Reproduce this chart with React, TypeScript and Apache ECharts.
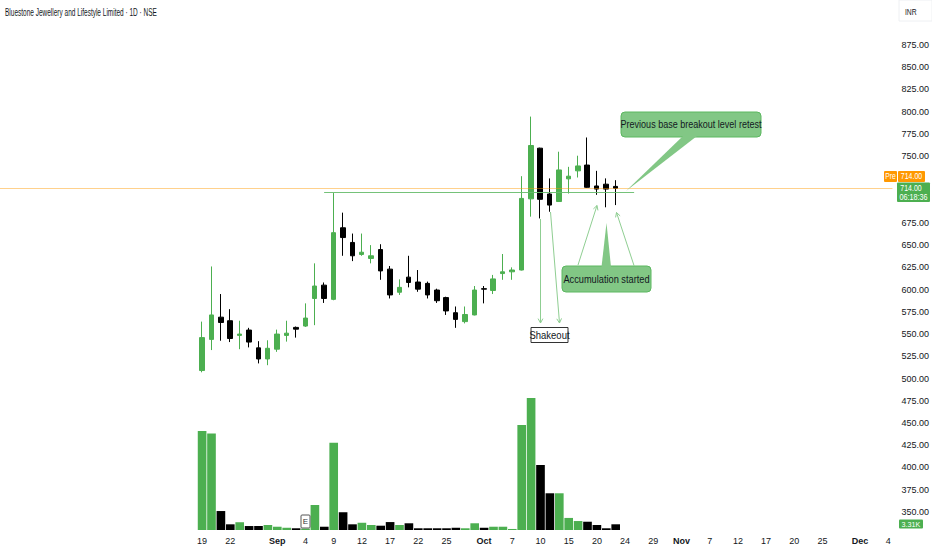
import React, { useEffect, useRef } from "react";
import * as echarts from "echarts";

// ---- data ----
const padCount = 21; // empty slots on the left of the first bar
const tradeDates = [
  "2025-08-19","2025-08-20","2025-08-21","2025-08-22","2025-08-25","2025-08-26","2025-08-28","2025-08-29",
  "2025-09-01","2025-09-02","2025-09-03","2025-09-04","2025-09-05","2025-09-08","2025-09-09","2025-09-10",
  "2025-09-11","2025-09-12","2025-09-15","2025-09-16","2025-09-17","2025-09-18","2025-09-19","2025-09-22",
  "2025-09-23","2025-09-24","2025-09-25","2025-09-26","2025-09-29","2025-09-30",
  "2025-10-01","2025-10-03","2025-10-06","2025-10-07","2025-10-08","2025-10-09","2025-10-10","2025-10-13",
  "2025-10-14","2025-10-15","2025-10-16","2025-10-17","2025-10-20","2025-10-21","2025-10-23","2025-10-24",
  "2025-10-27","2025-10-28","2025-10-29","2025-10-30","2025-10-31",
  "2025-11-03","2025-11-04","2025-11-06","2025-11-07","2025-11-10","2025-11-11","2025-11-12","2025-11-13",
  "2025-11-14","2025-11-17","2025-11-18","2025-11-19","2025-11-20","2025-11-21","2025-11-24","2025-11-25",
  "2025-11-26","2025-11-27","2025-11-28",
  "2025-12-01","2025-12-02","2025-12-03","2025-12-04",
];
const tickLabels: Record<string, string> = {
  "2025-08-19": "19", "2025-08-22": "22", "2025-09-01": "Sep", "2025-09-04": "4", "2025-09-09": "9",
  "2025-09-12": "12", "2025-09-17": "17", "2025-09-22": "22", "2025-09-25": "25", "2025-10-01": "Oct",
  "2025-10-07": "7", "2025-10-10": "10", "2025-10-15": "15", "2025-10-20": "20", "2025-10-24": "24",
  "2025-10-29": "29", "2025-11-03": "Nov", "2025-11-07": "7", "2025-11-12": "12", "2025-11-17": "17",
  "2025-11-20": "20", "2025-11-25": "25", "2025-12-01": "Dec", "2025-12-04": "4",
};
const monthLabels = ["Sep", "Oct", "Nov", "Dec"];

const opens = [509,544,569,565,548.5,554.5,534.5,522,533,548.5,557.5,559,590,605,589,669.5,653,639.5,635,645,623,597,614,608.5,607,599.5,591,574,564,571.5,601,599,618,620,622,702,759,707.5,699,724.5,733.5,740,716.5,718.5,716];
const closes = [546,571.5,563,545,550,541,522,534,550,551,555.5,568,604,590,664,658.5,638,642,638,621,594,602.5,608,600.5,594,587.5,576,566.5,572,599.5,600.5,612,620,622,702.5,762,701.5,695,734.5,727.5,739,715,713,713,714];
const lows = [507,532,542.5,541,533,535,517,515,530,541.5,546,558,560,585,588,638,632,638,629.5,611,590,594,602.5,597.5,590,585,571.5,557,562,571,584.5,595,611,611,621.5,682,680,687.5,698.5,708,726,714.5,706.5,692.5,695];
const highs = [564,626,595,578,565,557,542,543,555,565,558.5,584.5,629.5,608,708.5,686.5,663,663,650,651,626.5,611.5,638,622,609,601,592,581,581,604,604,616.5,640,625,727.5,794.5,759.5,725,755,738,750.5,771,733.5,725,723];
const volumesK = [57.4,55.9,11,3.3,4.5,2.3,2.3,2.9,1.9,1.3,1.0,0.8,14.5,1.9,50.6,10.3,3.3,4.2,2.9,2.5,4.6,2.9,3.9,1.0,1.0,1.0,1.0,1.3,1.0,3.9,1.3,1.9,1.9,0.6,60.9,76.6,37.7,21.3,21.3,7.0,5.2,4.8,2.9,1.0,3.31];

const lastPrice = 714;
const baseLevel = 709;
const baseStart = tradeDates[13];
const baseEnd = tradeDates[46];
const priceTicksHidden = [325, 700, 725, 900, 925];

// ---- styles ----
const UP = "#4caf50";
const DOWN = "#000000";
const TEXT = "#131722";
const FONT = "'Liberation Sans', Arial, sans-serif";
const CALLOUT = "#82c785";
const CALLOUT_BORDER = "#5cb860";
const ARROW = "#8fce92";

function arrow(x1: number, y1: number, x2: number, y2: number, color: string) {
  const ang = Math.atan2(y2 - y1, x2 - x1);
  const L = 5;
  const a = 0.5;
  const p1 = [x2 - L * Math.cos(ang - a), y2 - L * Math.sin(ang - a)];
  const p2 = [x2 - L * Math.cos(ang + a), y2 - L * Math.sin(ang + a)];
  return [
    { type: "line", z: 50, shape: { x1, y1, x2, y2 }, style: { stroke: color, lineWidth: 1 } },
    { type: "polyline", z: 50, shape: { points: [p1, [x2, y2], p2] }, style: { stroke: color, fill: null, lineWidth: 1 } },
  ];
}

function txt(text: string, x: number, y: number, size: number, color: string, align = "center", sx = 1, weight = "normal") {
  return {
    type: "text",
    z: 60,
    x,
    y,
    scaleX: sx,
    style: {
      text,
      x: 0,
      y: 0,
      fill: color,
      fontSize: size,
      fontFamily: FONT,
      fontWeight: weight,
      textAlign: align,
      textVerticalAlign: "middle",
    },
  };
}

export default function App() {
  const ref = useRef<HTMLDivElement>(null);

  useEffect(() => {
    if (!ref.current) return;
    const chart = echarts.init(ref.current, undefined, { renderer: "svg" });

    const pads = Array.from({ length: padCount }, (_, i) => `pad${i}`);
    const categories = [...pads, ...tradeDates];
    const empty4 = ["-", "-", "-", "-"];
    const candleData = [
      ...pads.map(() => empty4),
      ...opens.map((o, i) => [o, closes[i], lows[i], highs[i]]),
    ];
    const volData = [
      ...pads.map(() => "-"),
      ...volumesK.map((v, i) => ({
        value: v,
        itemStyle: { color: closes[i] >= opens[i] ? UP : DOWN },
      })),
    ];

    const graphic: any[] = [
      // title
      txt("Bluestone Jewellery and Lifestyle Limited · 1D · NSE", 5, 12, 10, TEXT, "left", 0.65),
      // INR box
      { type: "rect", z: 55, shape: { x: 899, y: 0, width: 33, height: 21 }, style: { fill: "#ffffff", stroke: "#eef0f3", lineWidth: 1 } },
      txt("INR", 905, 12, 9, TEXT, "left", 0.75),
      // Pre / last price labels
      { type: "rect", z: 55, shape: { x: 884, y: 171, width: 13, height: 11, r: 1 }, style: { fill: "#ff9800" } },
      txt("Pre", 890.5, 176.5, 8.5, "#ffffff", "center", 0.8),
      { type: "rect", z: 55, shape: { x: 898, y: 171, width: 27, height: 11, r: 1 }, style: { fill: "#ff9800" } },
      txt("714.00", 911.5, 176.5, 8.5, "#ffffff", "center", 0.82),
      { type: "rect", z: 55, shape: { x: 897, y: 182.5, width: 33, height: 19.5, r: 1 }, style: { fill: UP } },
      txt("714.00", 911, 188.5, 8.5, "#ffffff", "center", 0.82),
      txt("06:18:36", 913.5, 197, 8.5, "#ffffff", "center", 0.85),
      // volume label
      { type: "rect", z: 55, shape: { x: 899, y: 519.5, width: 24, height: 9, r: 1 }, style: { fill: UP } },
      txt("3.31K", 911, 524, 8, "#ffffff", "center", 0.9),
      // earnings marker
      { type: "rect", z: 55, shape: { x: 301, y: 515, width: 9, height: 13, r: 1 }, style: { fill: "#ffffff", stroke: "#555555", lineWidth: 1 } },
      txt("E", 305.5, 521.5, 8, "#333333"),
      // shakeout
      ...arrow(540.5, 219, 540.5, 323, ARROW),
      ...arrow(550.5, 212, 559.5, 323, ARROW),
      { type: "rect", z: 55, shape: { x: 531, y: 327.5, width: 37, height: 15 }, style: { fill: "#ffffff", stroke: "#333333", lineWidth: 1 } },
      txt("Shakeout", 549.5, 335, 10, TEXT, "center", 0.95),
      // accumulation
      ...arrow(578, 265, 597, 205.5, ARROW),
      ...arrow(634, 265.5, 616.5, 212.5, ARROW),
      { type: "rect", z: 55, shape: { x: 562, y: 266, width: 89, height: 26, r: 4 }, style: { fill: CALLOUT, stroke: CALLOUT_BORDER, lineWidth: 1 } },
      { type: "polygon", z: 56, shape: { points: [[601.5, 267], [606.5, 223], [611, 267]] }, style: { fill: CALLOUT } },
      txt("Accumulation started", 606.5, 279, 10.5, TEXT, "center", 0.88),
      // breakout retest
      { type: "rect", z: 55, shape: { x: 621, y: 112, width: 140, height: 25, r: 4 }, style: { fill: CALLOUT, stroke: CALLOUT_BORDER, lineWidth: 1 } },
      { type: "polygon", z: 56, shape: { points: [[683, 136], [626, 191], [697, 136]] }, style: { fill: CALLOUT } },
      txt("Previous base breakout level retest", 691, 124.5, 10.5, TEXT, "center", 0.86),
    ];

    chart.setOption({
      animation: false,
      backgroundColor: "#ffffff",
      grid: [
        { left: 0, right: 39, top: 0.5, height: 533.7 },
        { left: 0, right: 39, bottom: 20, height: 140 },
      ],
      xAxis: [
        {
          type: "category",
          gridIndex: 0,
          data: categories,
          boundaryGap: true,
          axisLine: { show: false },
          axisTick: { show: false },
          axisLabel: { show: false },
          splitLine: { show: false },
        },
        {
          type: "category",
          gridIndex: 1,
          data: categories,
          boundaryGap: true,
          axisLine: { show: false },
          axisTick: { show: false },
          splitLine: { show: false },
          axisLabel: {
            interval: 0,
            margin: 6,
            hideOverlap: false,
            color: TEXT,
            fontSize: 9,
            fontFamily: FONT,
            formatter: (v: string) => {
              const l = tickLabels[v];
              if (!l) return "";
              return monthLabels.includes(l) ? `{b|${l}}` : l;
            },
            rich: { b: { fontWeight: "bold", fontSize: 9, fontFamily: FONT, color: TEXT } },
          },
        },
      ],
      yAxis: [
        {
          type: "value",
          gridIndex: 0,
          position: "right",
          min: 325,
          max: 925,
          interval: 25,
          axisLine: { show: false },
          axisTick: { show: false },
          splitLine: { show: false },
          axisLabel: {
            margin: 9,
            color: TEXT,
            fontSize: 9,
            fontFamily: FONT,
            formatter: (v: number) => (priceTicksHidden.includes(v) ? "" : v.toFixed(2)),
          },
        },
        {
          type: "value",
          gridIndex: 1,
          min: 0,
          max: 81.2,
          show: false,
          splitLine: { show: false },
        },
      ],
      series: [
        {
          type: "bar",
          xAxisIndex: 1,
          yAxisIndex: 1,
          data: volData,
          barCategoryGap: "8%",
          z: 1,
        },
        {
          type: "candlestick",
          xAxisIndex: 0,
          yAxisIndex: 0,
          data: candleData,
          barWidth: 5,
          z: 3,
          itemStyle: {
            color: UP,
            color0: DOWN,
            borderColor: UP,
            borderColor0: DOWN,
            borderWidth: 1,
          },
          markLine: {
            silent: true,
            symbol: ["none", "none"],
            label: { show: false },
            lineStyle: { type: "solid", width: 1 },
            data: [
              { yAxis: lastPrice, lineStyle: { color: "#ff9800", opacity: 0.45, type: "solid", width: 1 } },
              [
                { coord: [baseStart, baseLevel], lineStyle: { color: "#66bb6a", opacity: 0.9, type: "solid", width: 1 } },
                { coord: [baseEnd, baseLevel] },
              ],
            ],
          },
        },
      ],
      graphic,
    });

    return () => chart.dispose();
  }, []);

  return (
    <div
      ref={ref}
      style={{ position: "absolute", left: 0, top: 0, width: 932, height: 550, background: "#fff" }}
    />
  );
}
